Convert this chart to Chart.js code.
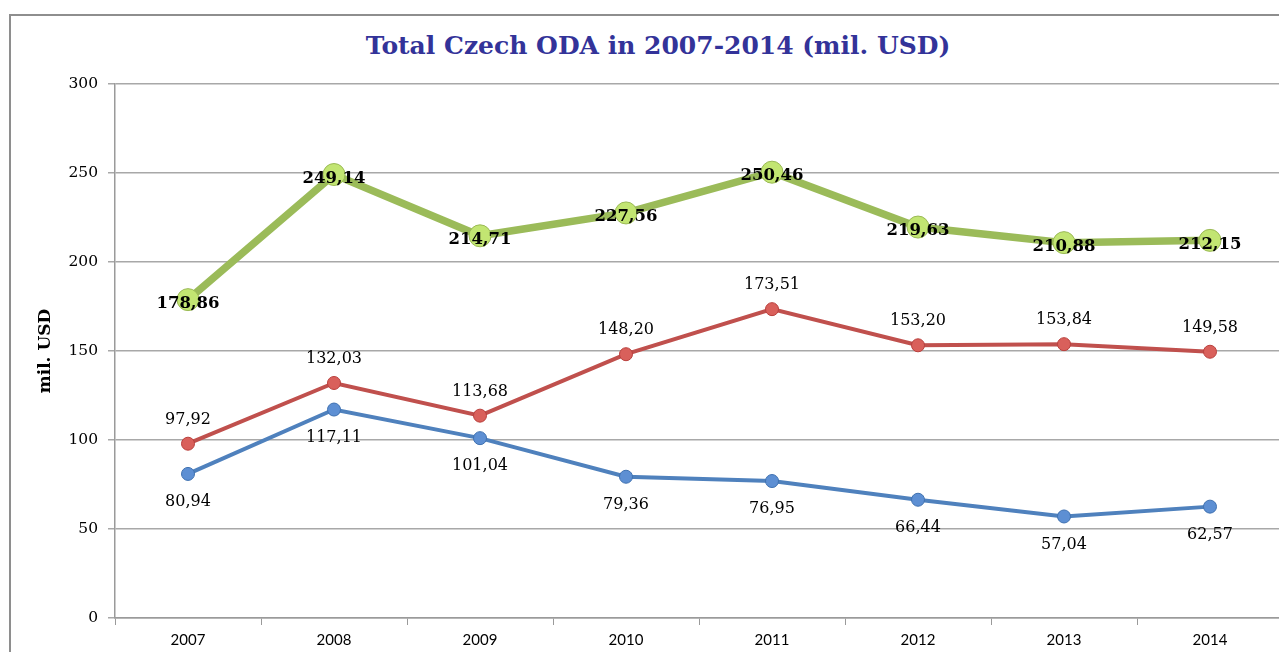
<!DOCTYPE html>
<html>
<head>
<meta charset="utf-8">
<script src="https://cdn.jsdelivr.net/npm/chart.js@4"></script>
<style>
  body { margin: 0; width: 1279px; height: 652px; overflow: hidden; background: #fff; }
  #wrap { position: relative; width: 1300px; height: 652px; }
  #frame { position: absolute; left: 9px; top: 14px; width: 1320px; height: 700px; border: 2px solid #8e8e8e; box-sizing: border-box; }
  #title { position: absolute; left: 10px; top: 31px; width: 1296px; text-align: center;
    font: bold 25px "DejaVu Serif", serif; line-height: 30px; color: #333399; }
  canvas { position: absolute; left: 0; top: 0; }
</style>
</head>
<body>
<div id="wrap">
  <div id="frame"></div>
  <div id="title">Total Czech ODA in 2007-2014 (mil. USD)</div>
  <canvas id="odaChart" width="1300" height="652"></canvas>
</div>
<script>
// datos
const years = ['2007', '2008', '2009', '2010', '2011', '2012', '2013', '2014'];
const totalOda = [178.86, 249.14, 214.71, 227.56, 250.46, 219.63, 210.88, 212.15];
const multilateral = [97.92, 132.03, 113.68, 148.20, 173.51, 153.20, 153.84, 149.58];
const bilateral = [80.94, 117.11, 101.04, 79.36, 76.95, 66.44, 57.04, 62.57];
const yTicks = [0, 50, 100, 150, 200, 250, 300];

// etiquetas con coma decimal, dibujadas junto a cada punto
const valueLabels = {
  id: 'valueLabels',
  afterDatasetsDraw(chart) {
    const ctx = chart.ctx;
    chart.data.datasets.forEach((ds, i) => {
      const meta = chart.getDatasetMeta(i);
      ctx.save();
      ctx.font = ds.labelFont;
      ctx.fillStyle = '#000';
      ctx.textAlign = 'center';
      ctx.textBaseline = 'middle';
      meta.data.forEach((pt, j) => {
        const txt = ds.data[j].toFixed(2).replace('.', ',');
        ctx.fillText(txt, pt.x, pt.y + ds.labelOffset);
      });
      ctx.restore();
    });
  }
};

var ctx = document.getElementById('odaChart').getContext('2d');
var chart = new Chart(ctx, {
  type: 'line',
  data: {
    labels: years,
    datasets: [
      {
        label: 'Total',
        data: totalOda,
        borderColor: '#9bbb59',
        borderWidth: 7.5,
        pointRadius: 11,
        pointBackgroundColor: '#c2e572',
        pointBorderColor: '#9ab955',
        pointBorderWidth: 1,
        labelFont: 'bold 16.5px "DejaVu Serif"',
        labelOffset: 4,
      },
      {
        label: 'Multilateral',
        data: multilateral,
        borderColor: '#c0504d',
        borderWidth: 4,
        pointRadius: 6.5,
        pointBackgroundColor: '#d9605b',
        pointBorderColor: '#b9403d',
        pointBorderWidth: 1,
        labelFont: '16px "DejaVu Serif"',
        labelOffset: -24,
      },
      {
        label: 'Bilateral',
        data: bilateral,
        borderColor: '#4f81bd',
        borderWidth: 4,
        pointRadius: 6.5,
        pointBackgroundColor: '#5d8fd3',
        pointBorderColor: '#3f71b0',
        pointBorderWidth: 1,
        labelFont: '16px "DejaVu Serif"',
        labelOffset: 28,
      },
    ],
  },
  options: {
    responsive: false,
    animation: false,
    layout: { padding: { top: 84, right: 17, bottom: 0, left: 0 } },
    plugins: {
      legend: { display: false },
      tooltip: { enabled: false },
    },
    scales: {
      x: {
        offset: true,
        grid: { offset: true, drawOnChartArea: false, drawTicks: true, tickLength: 7, color: '#9a9a9a' },
        border: { color: '#9a9a9a', width: 1.5 },
        ticks: { font: { family: 'Lato', size: 15 }, color: '#000', padding: 6 },
        afterFit: (scale) => { scale.height = 34; },
      },
      y: {
        min: 0,
        max: 300,
        afterBuildTicks: (scale) => { scale.ticks = yTicks.map(v => ({ value: v })); },
        grid: { color: '#a8a8a8', lineWidth: 1.5, tickLength: 7 },
        border: { color: '#9a9a9a', width: 1.5 },
        ticks: { font: { family: 'DejaVu Serif', size: 15.5 }, color: '#000', padding: 10 },
        title: {
          display: true,
          text: 'mil. USD',
          font: { family: 'DejaVu Serif', size: 17, weight: 'bold' },
          color: '#000',
          padding: { top: 35 },
        },
        afterFit: (scale) => { scale.width = 115; },
      },
    },
  },
  plugins: [valueLabels],
});
</script>
</body>
</html>
